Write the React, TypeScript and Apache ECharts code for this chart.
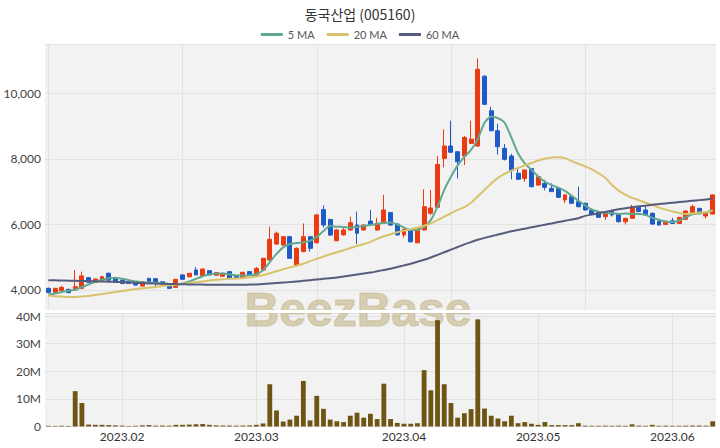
import React, { useEffect, useRef } from 'react';
import * as echarts from 'echarts';

const dates = [
  '2023.01.13', '2023.01.16', '2023.01.17', '2023.01.18', '2023.01.19', '2023.01.20', '2023.01.25', '2023.01.26', '2023.01.27', '2023.01.30', '2023.01.31',
  '2023.02.01', '2023.02.02', '2023.02.03', '2023.02.06', '2023.02.07', '2023.02.08', '2023.02.09', '2023.02.10', '2023.02.13', '2023.02.14',
  '2023.02.15', '2023.02.16', '2023.02.17', '2023.02.20', '2023.02.21', '2023.02.22', '2023.02.23', '2023.02.24', '2023.02.27', '2023.02.28',
  '2023.03.02', '2023.03.03', '2023.03.06', '2023.03.07', '2023.03.08', '2023.03.09', '2023.03.10', '2023.03.13', '2023.03.14', '2023.03.15',
  '2023.03.16', '2023.03.17', '2023.03.20', '2023.03.21', '2023.03.22', '2023.03.23', '2023.03.24', '2023.03.27', '2023.03.28', '2023.03.29',
  '2023.03.30', '2023.03.31',
  '2023.04.03', '2023.04.04', '2023.04.05', '2023.04.06', '2023.04.07', '2023.04.10', '2023.04.11', '2023.04.12', '2023.04.13', '2023.04.14',
  '2023.04.17', '2023.04.18', '2023.04.19', '2023.04.20', '2023.04.21', '2023.04.24', '2023.04.25', '2023.04.26', '2023.04.27', '2023.04.28',
  '2023.05.02', '2023.05.03', '2023.05.04', '2023.05.08', '2023.05.09', '2023.05.10', '2023.05.11', '2023.05.12', '2023.05.15', '2023.05.16',
  '2023.05.17', '2023.05.18', '2023.05.19', '2023.05.22', '2023.05.23', '2023.05.24', '2023.05.25', '2023.05.26', '2023.05.30', '2023.05.31',
  '2023.06.01', '2023.06.02', '2023.06.05', '2023.06.07', '2023.06.08', '2023.06.09', '2023.06.12',
];

const opens = [
  4050, 3930, 3980, 4020, 4000, 4050, 4375, 4235, 4300, 4510,
  4355, 4300, 4250, 4250, 4120, 4355, 4345, 4250, 4150, 4080,
  4460, 4400, 4610, 4430, 4590, 4450, 4420, 4560, 4440, 4355,
  4560, 4430, 4610, 4915, 5400, 5370, 5625, 4760, 5170, 5625,
  5440, 6450, 6150, 5500, 5680, 5830, 5980, 5830, 6100, 5830,
  6030, 6360, 6010, 5680, 5830, 5440, 5830, 6340, 6520, 8010,
  8390, 8215, 8085, 8470, 8390, 10520, 9465, 8855, 8320, 8085,
  7560, 7400, 7700, 7200, 7250, 7100, 7100, 6745, 6845, 6690,
  6645, 6440, 6390, 6235, 6390, 6320, 6080, 6185, 6520, 6440,
  6340, 6100, 6000, 6110, 6030, 6155, 6355, 6490, 6255, 6315,
];

const closes = [
  3920, 4050, 4080, 3920, 4100, 4430, 4235, 4335, 4405, 4300,
  4235, 4200, 4200, 4150, 4250, 4250, 4200, 4180, 4050, 4325,
  4325, 4510, 4460, 4640, 4460, 4530, 4510, 4355, 4355, 4540,
  4460, 4660, 4965, 5545, 5730, 5625, 4965, 5270, 5625, 5270,
  6290, 5980, 5675, 5830, 5830, 6050, 5730, 5980, 5990, 6030,
  6440, 5980, 5680, 5850, 5470, 5880, 6540, 6500, 7830, 8390,
  8200, 7910, 8650, 8600, 10730, 9660, 8855, 8370, 7985, 7640,
  7375, 7660, 7150, 7455, 7130, 7000, 6825, 6900, 6645, 6540,
  6440, 6310, 6215, 6340, 6290, 6080, 6185, 6540, 6390, 6290,
  6010, 5980, 6100, 6030, 6215, 6410, 6540, 6325, 6355, 6900,
];

const lows = [
  3900, 3910, 3960, 3900, 3980, 4020, 4220, 4220, 4280, 4290,
  4220, 4190, 4190, 4140, 4110, 4240, 4090, 4170, 4040, 4070,
  4310, 4390, 4450, 4420, 4450, 4440, 4400, 4340, 4340, 4340,
  4440, 4420, 4600, 4900, 5370, 5350, 4950, 4730, 5150, 5170,
  5420, 5900, 5650, 5490, 5660, 5810, 5400, 5810, 5970, 5810,
  6010, 5960, 5660, 5600, 5450, 5420, 5810, 6290, 6500, 7740,
  8180, 7400, 7810, 8450, 8370, 9640, 8840, 8130, 7950, 7375,
  7360, 7300, 7130, 7180, 7040, 6990, 6810, 6650, 6630, 6520,
  6420, 6280, 6200, 6140, 6240, 6060, 6000, 6170, 6370, 6260,
  5990, 5970, 5980, 6020, 6010, 6140, 6320, 6310, 6180, 6300,
];

const highs = [
  4070, 4070, 4130, 4040, 4610, 4560, 4400, 4350, 4430, 4530,
  4370, 4310, 4260, 4260, 4260, 4370, 4360, 4260, 4160, 4340,
  4470, 4520, 4700, 4650, 4600, 4540, 4520, 4570, 4460, 4550,
  4570, 4700, 4980, 5930, 5780, 5640, 5650, 5300, 6030, 5640,
  6320, 6580, 6170, 5850, 5900, 6230, 6390, 6000, 6440, 6200,
  6900, 6380, 6030, 5870, 5850, 5900, 7070, 7050, 8085, 8900,
  9160, 8230, 8700, 9160, 11060, 10540, 9585, 9070, 8450, 8150,
  7750, 7680, 7720, 7470, 7360, 7250, 7120, 6920, 6860, 7150,
  6660, 6480, 6410, 6355, 6460, 6340, 6200, 6600, 6540, 6540,
  6360, 6110, 6110, 6200, 6230, 6420, 6600, 6500, 6370, 6920,
];

// trading volume, in millions of shares
const volumes = [
  0.25, 0.2, 0.3, 0.2, 12.8, 8.5, 0.7, 0.6, 0.6, 0.5,
  0.4, 0.3, 0.2, 0.25, 0.4, 0.5, 0.3, 0.35, 0.3, 0.6,
  0.6, 0.7, 0.8, 0.9, 0.6, 0.4, 0.35, 0.35, 0.3, 0.35,
  0.4, 0.6, 1.1, 15.3, 5.8, 1.8, 2.5, 3.9, 16.5, 2.2,
  11.1, 6.4, 2.5, 1.9, 1.6, 3.9, 5.0, 3.2, 4.6, 2.7,
  15.5, 2.7, 1.3, 1.0, 1.0, 1.2, 20.4, 13.1, 38.5, 15.3,
  8.5, 3.2, 4.8, 6.3, 38.8, 6.5, 3.9, 2.9, 1.9, 3.9,
  1.2, 1.6, 1.0, 0.6, 1.6, 0.5, 0.5, 0.5, 0.5, 1.2,
  0.3, 0.25, 0.25, 0.3, 0.25, 0.3, 0.25, 0.8, 0.3, 0.25,
  0.6, 0.25, 0.3, 0.25, 0.25, 0.3, 0.35, 0.35, 0.3, 1.9,
];

const ma5 = [
  3850, 3890, 3940, 3980, 4010, 4090, 4170, 4250, 4310, 4360,
  4370, 4340, 4300, 4260, 4230, 4230, 4220, 4200, 4180, 4170,
  4200, 4260, 4340, 4420, 4470, 4500, 4500, 4480, 4450, 4440,
  4450, 4480, 4600, 4850, 5100, 5300, 5400, 5430, 5450, 5500,
  5620, 5800, 5950, 5930, 5920, 5900, 5920, 5950, 5980, 6010,
  6050, 6060, 6000, 5900, 5830, 5830, 5930, 6130, 6540, 7050,
  7450, 7800, 8060, 8270, 8600, 9100, 9290, 9240, 9100, 8650,
  8170, 7860, 7660, 7460, 7300, 7200, 7120, 7020, 6870, 6720,
  6580, 6450, 6390, 6350, 6340, 6320, 6330, 6320, 6320, 6290,
  6200, 6140, 6080, 6070, 6120, 6220, 6310, 6340, 6360, 6440,
];

const ma20 = [
  3830, 3810, 3800, 3790, 3790, 3800, 3820, 3850, 3880, 3910,
  3940, 3970, 4000, 4030, 4050, 4070, 4090, 4120, 4140, 4160,
  4190, 4210, 4240, 4260, 4290, 4310, 4330, 4340, 4350, 4360,
  4380, 4410, 4450, 4510, 4570, 4630, 4690, 4740, 4800, 4880,
  4950, 5020, 5090, 5150, 5210, 5280, 5340, 5400, 5460, 5560,
  5640, 5700, 5760, 5810, 5850, 5900, 5960, 6030, 6130, 6240,
  6340, 6440, 6530, 6660, 6850, 7050, 7250, 7420, 7540, 7640,
  7720, 7800, 7870, 7950, 8000, 8040, 8050, 8020, 7930, 7850,
  7770, 7680, 7560, 7420, 7200, 7030, 6910, 6810, 6740, 6660,
  6600, 6510, 6450, 6400, 6350, 6320, 6330, 6360, 6370, 6420,
];

const ma60 = [
  4300, 4295, 4290, 4285, 4280, 4275, 4270, 4265, 4260, 4255,
  4250, 4240, 4230, 4220, 4210, 4200, 4195, 4190, 4185, 4180,
  4175, 4170, 4170, 4165, 4160, 4160, 4160, 4160, 4160, 4160,
  4165, 4170, 4180, 4195, 4210, 4225, 4240, 4260, 4280, 4300,
  4320, 4340, 4360, 4380, 4410, 4440, 4470, 4500, 4530, 4570,
  4610, 4650, 4700, 4750, 4800, 4860, 4920, 4990, 5070, 5150,
  5230, 5310, 5390, 5460, 5530, 5590, 5640, 5690, 5740, 5790,
  5830, 5870, 5910, 5950, 5990, 6030, 6070, 6110, 6150, 6190,
  6260, 6300, 6340, 6380, 6420, 6460, 6490, 6520, 6550, 6570,
  6600, 6620, 6640, 6660, 6680, 6700, 6720, 6740, 6760, 6790,
];

const TITLE = '동국산업 (005160)';
const maNames = ['5 MA', '20 MA', '60 MA'];
const maColors = ['#62a88f', '#d8c36a', '#565c7b'];

const isMonthStart = (i: number) => i > 0 && dates[i].slice(0, 7) !== dates[i - 1].slice(0, 7);

export default function App() {
  const ref = useRef<HTMLDivElement>(null);
  useEffect(() => {
    const chart = echarts.init(ref.current!, null, { renderer: 'svg' });
    const candles = dates.map((_, i) => [opens[i], closes[i], lows[i], highs[i]]);
    const font = 'Lato';
    chart.setOption({
      animation: false,
      backgroundColor: '#ffffff',
      title: {
        text: TITLE,
        left: 'center',
        top: 2,
        textStyle: { fontSize: 14, fontWeight: 'normal', color: '#333', fontFamily: 'Noto Sans CJK KR' },
      },
      legend: {
        data: maNames.map((n) => ({ name: n, icon: 'rect' })),
        top: 24,
        left: 'center',
        itemWidth: 22,
        itemHeight: 3,
        itemGap: 12,
        textStyle: { fontSize: 11, color: '#555', fontFamily: font },
      },
      graphic: [
        {
          type: 'text',
          x: 358,
          y: 309,
          z: 1,
          style: {
            text: 'BeezBase',
            font: 'bold 48px "Liberation Sans", Arial, sans-serif',
            fill: 'rgba(196, 182, 136, 0.6)',
            stroke: 'rgba(196, 182, 136, 0.6)',
            lineWidth: 1.2,
            align: 'center',
            verticalAlign: 'middle',
          },
        },
        {
          type: 'rect',
          z: 1,
          shape: { x: 45, y: 310, width: 671, height: 3 },
          style: { fill: '#ffffff' },
        },
      ],
      grid: [
        { left: 45, right: 4, top: 44, height: 266, show: true, backgroundColor: '#f2f2f2', borderWidth: 0 },
        { left: 45, right: 4, top: 313, height: 113.5, show: true, backgroundColor: '#f2f2f2', borderWidth: 0 },
      ],
      xAxis: [
        {
          type: 'category',
          gridIndex: 0,
          data: dates,
          axisLine: { show: false },
          axisTick: { show: false },
          axisLabel: { show: false },
          splitLine: {
            show: true,
            alignWithLabel: true,
            interval: (i: number) => i % 20 === 0,
            lineStyle: { color: '#e2e2e2', width: 1 },
          },
        },
        {
          type: 'category',
          gridIndex: 1,
          data: dates,
          axisLine: { show: false },
          axisTick: { show: false, alignWithLabel: true },
          axisLabel: {
            interval: (i: number) => isMonthStart(i),
            formatter: (v: string) => v.slice(0, 7),
            color: '#333',
            fontSize: 12,
            fontFamily: font,
            margin: 4,
          },
          splitLine: {
            show: true,
            alignWithLabel: true,
            interval: (i: number) => isMonthStart(i),
            lineStyle: { color: '#e2e2e2', width: 1 },
          },
        },
      ],
      yAxis: [
        {
          type: 'value',
          gridIndex: 0,
          min: 3390,
          max: 11500,
          splitNumber: 5,
          axisLine: { show: false },
          axisTick: { show: false },
          axisLabel: { showMinLabel: false, showMaxLabel: false, color: '#444', fontSize: 12, fontFamily: font, margin: 4 },
          splitLine: { lineStyle: { color: '#e2e2e2', width: 1 } },
        },
        {
          type: 'value',
          gridIndex: 1,
          min: 0,
          max: 41.1,
          splitNumber: 5,
          axisLine: { show: false },
          axisTick: { show: false },
          axisLabel: {
            showMaxLabel: false,
            color: '#444',
            fontSize: 12,
            fontFamily: font,
            margin: 4,
            formatter: (v: number) => (v === 0 ? '0' : `${v}M`),
          },
          splitLine: { lineStyle: { color: '#e2e2e2', width: 1 } },
        },
      ],
      series: [
        {
          type: 'candlestick',
          xAxisIndex: 0,
          yAxisIndex: 0,
          data: candles,
          barWidth: '66%',
          itemStyle: {
            color: '#eb3b12',
            color0: '#1e5bc6',
            borderColor: '#eb3b12',
            borderColor0: '#1e5bc6',
            borderWidth: 1,
          },
        },
        ...[ma5, ma20, ma60].map((d, k) => ({
          name: maNames[k],
          type: 'line',
          xAxisIndex: 0,
          yAxisIndex: 0,
          data: d,
          symbol: 'none',
          smooth: 0.2,
          lineStyle: { color: maColors[k], width: 2 },
          itemStyle: { color: maColors[k] },
        })),
        {
          type: 'bar',
          xAxisIndex: 1,
          yAxisIndex: 1,
          data: volumes,
          barWidth: '72%',
          itemStyle: { color: '#6e5514' },
        },
      ],
    });
    return () => chart.dispose();
  }, []);
  return <div ref={ref} style={{ position: 'absolute', left: 0, top: 0, width: 720, height: 448 }} />;
}
